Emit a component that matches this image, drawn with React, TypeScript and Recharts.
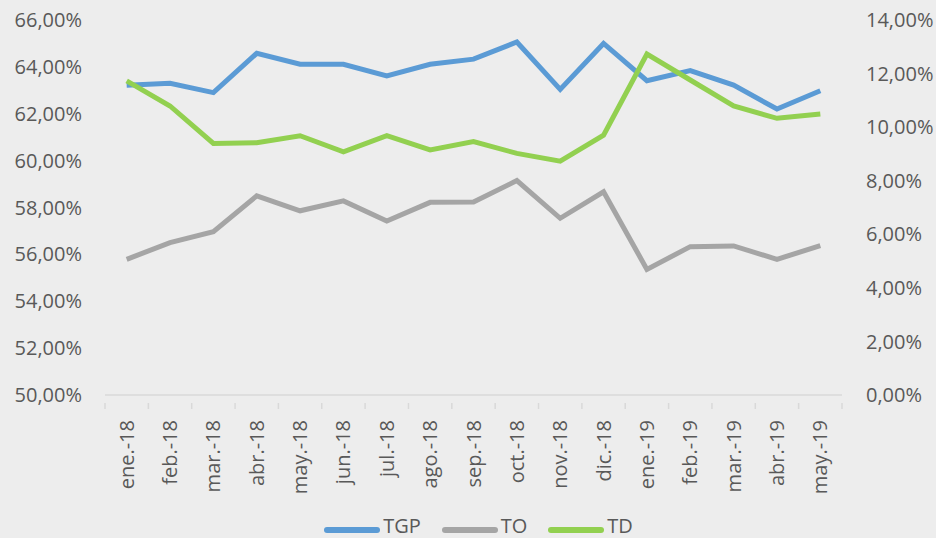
import React from 'react';
import { LineChart, Line, XAxis, YAxis, Legend } from 'recharts';

const months = [
  'ene.-18', 'feb.-18', 'mar.-18', 'abr.-18', 'may.-18', 'jun.-18', 'jul.-18', 'ago.-18',
  'sep.-18', 'oct.-18', 'nov.-18', 'dic.-18', 'ene.-19', 'feb.-19', 'mar.-19', 'abr.-19', 'may.-19',
];
const tgp = [63.22, 63.3, 62.9, 64.58, 64.11, 64.11, 63.61, 64.11, 64.33, 65.06, 63.04, 65.0, 63.41, 63.84, 63.22, 62.2, 62.98];
const to = [55.79, 56.5, 56.97, 58.5, 57.86, 58.28, 57.42, 58.22, 58.23, 59.15, 57.54, 58.67, 55.36, 56.33, 56.36, 55.79, 56.37];
const td = [11.73, 10.79, 9.39, 9.42, 9.68, 9.08, 9.68, 9.15, 9.46, 9.02, 8.73, 9.7, 12.73, 11.76, 10.79, 10.33, 10.49];
const leftTicks = [50, 52, 54, 56, 58, 60, 62, 64, 66];
const rightTicks = [0, 2, 4, 6, 8, 10, 12, 14];

const series = [
  { key: 'TGP', color: '#5B9BD5', gap: 20 },
  { key: 'TO', color: '#A5A5A5', gap: 20 },
  { key: 'TD', color: '#92D050', gap: 0 },
];

const data = months.map((m, i) => ({ month: m, TGP: tgp[i], TO: to[i], TD: td[i] }));

const W = 936;
const H = 538;
const LEFT_W = 105;
const RIGHT_W = 94;
const FONT = '"Open Sans", sans-serif';
const TEXT = '#595959';

const pct = (v: number) => v.toFixed(2).replace('.', ',') + '%';

const bandW = (W - LEFT_W - RIGHT_W) / months.length;

const MonthTick = (props: any) => {
  const { x, y, payload, index } = props;
  const left = x - bandW / 2;
  return (
    <g>
      <line x1={left} y1={y} x2={left} y2={y + 6} stroke="#D9D9D9" strokeWidth={1.5} />
      {index === months.length - 1 && (
        <line x1={left + bandW} y1={y} x2={left + bandW} y2={y + 6} stroke="#D9D9D9" strokeWidth={1.5} />
      )}
      <text
        x={x}
        y={y + 17}
        dy="0.35em"
        textAnchor="end"
        transform={`rotate(-90, ${x}, ${y + 17})`}
        fill={TEXT}
        fontSize={20}
        fontFamily={FONT}
      >
        {payload.value}
      </text>
    </g>
  );
};

const LegendContent = () => (
  <div
    style={{
      display: 'flex',
      justifyContent: 'center',
      alignItems: 'flex-start',
      paddingLeft: 20,
      fontFamily: FONT,
      fontSize: 20,
      lineHeight: '20px',
      color: TEXT,
    }}
  >
    {series.map((s) => (
      <div key={s.key} style={{ display: 'flex', alignItems: 'flex-start', marginRight: s.gap }}>
        <svg width={58} height={20} style={{ display: 'block' }}>
          <line x1={4} y1={14} x2={54} y2={14} stroke={s.color} strokeWidth={6} strokeLinecap="round" />
        </svg>
        <span style={{ marginLeft: 2 }}>{s.key}</span>
      </div>
    ))}
  </div>
);

export default function App() {
  return (
    <div style={{ position: 'absolute', left: 0, top: 0, width: W, height: H, background: '#EDEDED', overflow: 'hidden' }}>
      <div
        style={{
          position: 'absolute',
          top: -28,
          left: 118,
          fontFamily: FONT,
          fontSize: 20,
          lineHeight: '27px',
          color: TEXT,
          whiteSpace: 'nowrap',
        }}
      >
        Tasa global de participación (TGP), tasa de ocupación (TO) y tasa de desempleo (TD)
      </div>
      <LineChart width={W} height={H} data={data} margin={{ top: 20, right: 0, bottom: 0, left: 0 }}>
        <XAxis
          dataKey="month"
          scale="band"
          height={143}
          axisLine={{ stroke: '#D9D9D9', strokeWidth: 1.5 }}
          tickLine={false}
          interval={0}
          tick={<MonthTick />}
        />
        <YAxis
          yAxisId="left"
          width={LEFT_W}
          domain={[50, 66]}
          ticks={leftTicks}
          axisLine={false}
          tickLine={false}
          tickMargin={17}
          tickFormatter={pct}
          tick={{ fill: TEXT, fontSize: 20, fontFamily: FONT }}
        />
        <YAxis
          yAxisId="right"
          orientation="right"
          width={RIGHT_W}
          domain={[0, 14]}
          ticks={rightTicks}
          axisLine={false}
          tickLine={false}
          tickMargin={18}
          tickFormatter={pct}
          tick={{ fill: TEXT, fontSize: 20, fontFamily: FONT }}
        />
        <Line yAxisId="left" dataKey="TGP" stroke="#5B9BD5" strokeWidth={5} dot={false} isAnimationActive={false} />
        <Line yAxisId="left" dataKey="TO" stroke="#A5A5A5" strokeWidth={5} dot={false} isAnimationActive={false} />
        <Line yAxisId="right" dataKey="TD" stroke="#92D050" strokeWidth={5} dot={false} isAnimationActive={false} />
        <Legend
          verticalAlign="middle"
          content={<LegendContent />}
          wrapperStyle={{ top: 516, left: 0, width: W }}
        />
      </LineChart>
    </div>
  );
}
